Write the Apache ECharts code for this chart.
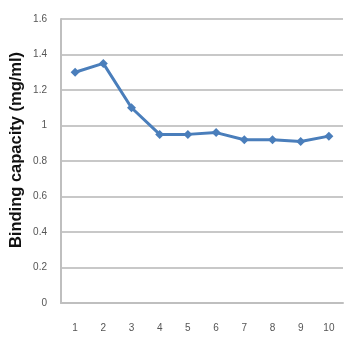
<!DOCTYPE html>
<html><head><meta charset="utf-8">
<script src="https://cdn.jsdelivr.net/npm/echarts@6/dist/echarts.min.js"></script>
<style>html,body{margin:0;padding:0;background:#fff}#c{width:358px;height:358px}</style>
</head><body><div id="c"></div>
<script>
const categories = ['1','2','3','4','5','6','7','8','9','10'];
const values = [1.30, 1.35, 1.10, 0.95, 0.95, 0.96, 0.92, 0.92, 0.91, 0.94];
const yTitle = 'Binding capacity (mg/ml)';

const chart = echarts.init(document.getElementById('c'));
chart.setOption({
  animation: false,
  grid: {left: 61, right: 15, top: 19, bottom: 55},
  graphic: [{
    type: 'text', x: 16, y: 150, rotation: Math.PI / 2,
    style: {text: yTitle, fill: '#111', font: 'bold 16.5px "Liberation Sans"',
      align: 'center', verticalAlign: 'middle'}
  }],
  xAxis: {
    type: 'category', data: categories, boundaryGap: true,
    axisLine: {lineStyle: {color: '#bfbfbf', width: 2}},
    axisTick: {show: false},
    axisLabel: {color: '#555', fontSize: 10, fontFamily: 'Liberation Sans', margin: 20}
  },
  yAxis: {
    type: 'value', min: 0, max: 1.6, interval: 0.2,
    axisLine: {show: true, lineStyle: {color: '#bfbfbf', width: 2}},
    axisTick: {show: false},
    axisLabel: {color: '#555', fontSize: 10, fontFamily: 'Liberation Sans', margin: 14,
      formatter: v => (Math.round(v*10)/10).toString()},
    splitLine: {lineStyle: {color: '#c8c8c8', width: 2}}
  },
  series: [{
    type: 'line', data: values,
    lineStyle: {color: '#4a7ebb', width: 3},
    itemStyle: {color: '#4a7ebb'},
    symbol: 'diamond', symbolSize: 9
  }]
});
</script></body></html>
